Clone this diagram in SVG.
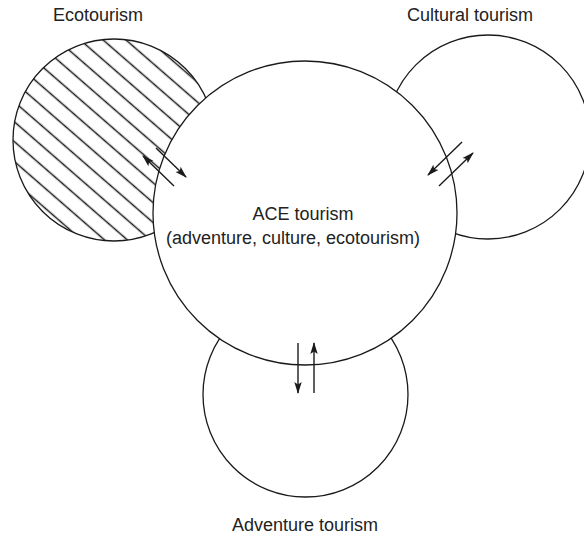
<svg xmlns="http://www.w3.org/2000/svg" width="584" height="540" viewBox="0 0 584 540">
<style>
.c{fill:#fff;stroke:#1a1a1a;stroke-width:1.3}
.a{fill:none;stroke:#1a1a1a;stroke-width:1.4;marker-end:url(#ah)}
.t{font-family:"Liberation Sans",Arial,sans-serif;font-size:18px;fill:#222;text-anchor:middle}
</style>
<defs>
<pattern id="hatch" patternUnits="userSpaceOnUse" width="15" height="15" patternTransform="rotate(41)">
<rect width="15" height="15" fill="#fff"/>
<line x1="0" y1="7.5" x2="15" y2="7.5" stroke="#1a1a1a" stroke-width="1.5"/>
</pattern>
<marker id="ah" markerUnits="userSpaceOnUse" markerWidth="12" markerHeight="9" refX="11" refY="4.5" orient="auto">
<path d="M0,0.8 L12,4.5 L0,8.2 L2.5,4.5 z" fill="#1a1a1a"/>
</marker>
</defs>
<g id="eco">
<circle cx="114" cy="140" r="101" fill="url(#hatch)" stroke="#1a1a1a" stroke-width="1.3"/>
<text class="t" x="98" y="21">Ecotourism</text>
</g>
<g id="cultural">
<circle class="c" cx="488" cy="137" r="102"/>
<text class="t" x="470" y="21">Cultural tourism</text>
</g>
<g id="adventure">
<circle class="c" cx="305.5" cy="394.5" r="102.5"/>
<text class="t" x="305" y="531">Adventure tourism</text>
</g>
<g id="ace">
<circle class="c" cx="305" cy="213" r="152"/>
<text class="t" x="303" y="220">ACE tourism</text>
<text class="t" x="293" y="244">(adventure, culture, ecotourism)</text>
</g>
<g id="connectors">
<line class="a" x1="174" y1="186" x2="143" y2="156"/>
<line class="a" x1="156" y1="148" x2="186" y2="177"/>
<line class="a" x1="462" y1="142" x2="428" y2="175"/>
<line class="a" x1="439" y1="186" x2="473" y2="153"/>
<line class="a" x1="298" y1="343" x2="298" y2="393"/>
<line class="a" x1="314" y1="393" x2="314" y2="343"/>
</g>
</svg>
